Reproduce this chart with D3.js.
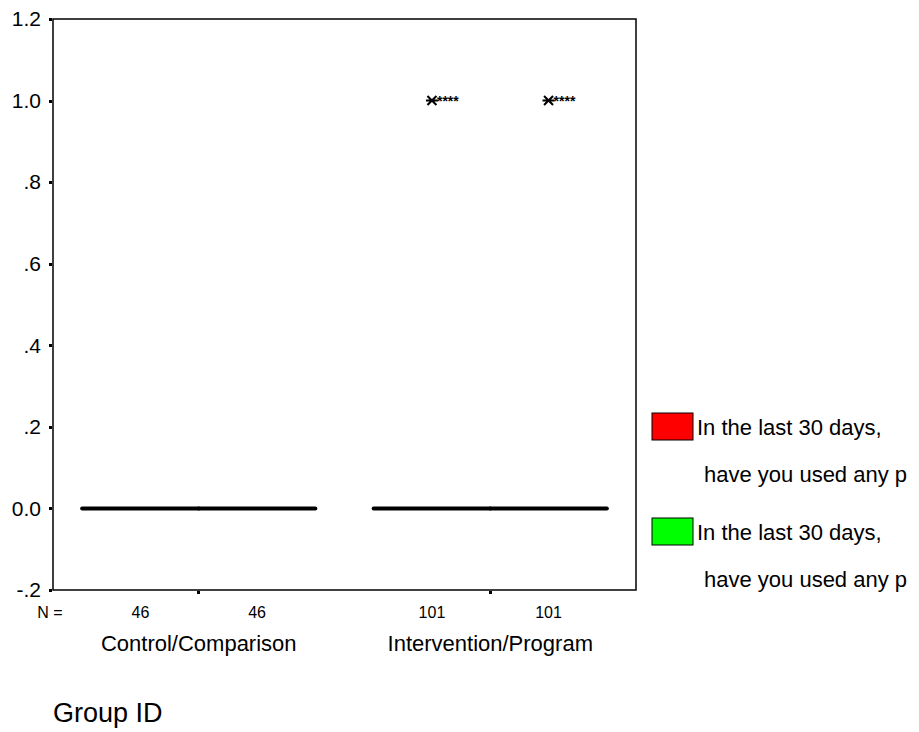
<!DOCTYPE html>
<meta charset="utf-8">
<script src="https://cdn.jsdelivr.net/npm/d3@7"></script>
<style>
body { margin: 0; background: #fff; }
svg { font-family: "Liberation Sans", Arial, sans-serif; }
.axis text { font-size: 21px; fill: #000; }
.axis line { stroke: #000; stroke-width: 3px; shape-rendering: crispEdges; }
.axis path { display: none; }
.frame { fill: none; stroke: #000; stroke-width: 1.5px; }
.median { stroke: #000; stroke-width: 4px; stroke-linecap: round; }
.count { font-size: 16px; }
.legend text { font-size: 22px; }
</style>
<div id="chart"></div>
<script>
var groups = ["Control/Comparison", "Intervention/Program"];
var series = ["red", "green"];
var seriesColors = ["#ff0000", "#00ff00"];
var legendLines = [["In the last 30 days,", "have you used any p"], ["In the last 30 days,", "have you used any p"]];
// box stats per group, per series: [min, q1, median, q3, max]
var stats = [
  [[0, 0, 0, 0, 0], [0, 0, 0, 0, 0]],
  [[0, 0, 0, 0, 0], [0, 0, 0, 0, 0]]
];
var counts = [[46, 46], [101, 101]];
// extreme values (asterisks) per group/series
var extremes = [[[], []], [[1.0], [1.0]]];
var yTicks = [-0.2, 0, 0.2, 0.4, 0.6, 0.8, 1.0, 1.2];
var yLabels = ["-.2", "0.0", ".2", ".4", ".6", ".8", "1.0", "1.2"];

var W = 919, H = 732;
var mLeft = 53, mRight = 636, mTop = 19, mBottom = 590;

var svg = d3.select("#chart").append("svg").attr("width", W).attr("height", H);

var x = d3.scaleBand().domain(groups).range([mLeft, mRight]);
var sub = d3.scaleBand().domain(series).range([0, x.bandwidth()]).paddingOuter(0.25);
var y = d3.scaleLinear().domain([-0.2, 1.2]).range([mBottom, mTop]);

svg.append("g")
    .attr("class", "axis")
    .attr("transform", "translate(" + (mLeft - 1) + ",0)")
    .call(d3.axisLeft(y).tickValues(yTicks).tickSize(3).tickPadding(8)
      .tickFormat(function(d, i) { return yLabels[i]; }));

svg.append("g")
    .attr("class", "axis")
    .attr("transform", "translate(0," + (mBottom + 1) + ")")
    .call(d3.axisBottom(x).tickSize(3).tickFormat(""));

svg.append("rect")
    .attr("class", "frame")
    .attr("x", mLeft).attr("y", mTop)
    .attr("width", mRight - mLeft).attr("height", mBottom - mTop);

groups.forEach(function(g, gi) {
  series.forEach(function(s, si) {
    var x0 = x(g) + sub(s), bw = sub.bandwidth(), cx = x0 + bw / 2;
    var st = stats[gi][si];
    svg.append("rect")
        .attr("x", x0).attr("y", y(st[3]))
        .attr("width", bw).attr("height", y(st[1]) - y(st[3]))
        .attr("fill", seriesColors[si]).attr("stroke", "#000");
    svg.append("line")
        .attr("class", "median")
        .attr("x1", x0).attr("x2", x0 + bw)
        .attr("y1", y(st[2])).attr("y2", y(st[2]));
    extremes[gi][si].forEach(function(v) {
      var py = y(v), r = 4.5;
      svg.append("path")
          .attr("d", "M" + (cx - r) + "," + (py - r) + "L" + (cx + r) + "," + (py + r) +
                     "M" + (cx - r) + "," + (py + r) + "L" + (cx + r) + "," + (py - r) +
                     "M" + (cx - r - 1.5) + "," + py + "L" + (cx + r + 1.5) + "," + py)
          .attr("stroke", "#000").attr("stroke-width", 2).attr("fill", "none");
      svg.append("text")
          .attr("x", cx + 5).attr("y", py + 5)
          .attr("font-size", 14).attr("font-weight", "bold")
          .text("****");
    });
    svg.append("text")
        .attr("class", "count")
        .attr("x", cx).attr("y", 618)
        .attr("text-anchor", "middle")
        .text(counts[gi][si]);
  });
  svg.append("text")
      .attr("x", x(g) + x.bandwidth() / 2).attr("y", 651)
      .attr("text-anchor", "middle")
      .attr("font-size", 22)
      .text(g);
});

svg.append("text")
    .attr("class", "count")
    .attr("x", 50).attr("y", 618)
    .attr("text-anchor", "middle")
    .text("N =");

svg.append("text")
    .attr("x", 53).attr("y", 722)
    .attr("font-size", 27)
    .text("Group ID");

var legend = svg.append("g").attr("class", "legend");
series.forEach(function(s, i) {
  var ly = 413 + i * 105;
  legend.append("rect")
      .attr("x", 652).attr("y", ly)
      .attr("width", 41).attr("height", 27)
      .attr("fill", seriesColors[i]).attr("stroke", "#000");
  legend.append("text").attr("x", 697).attr("y", ly + 22).text(legendLines[i][0]);
  legend.append("text").attr("x", 704).attr("y", ly + 69).text(legendLines[i][1]);
});
</script>
